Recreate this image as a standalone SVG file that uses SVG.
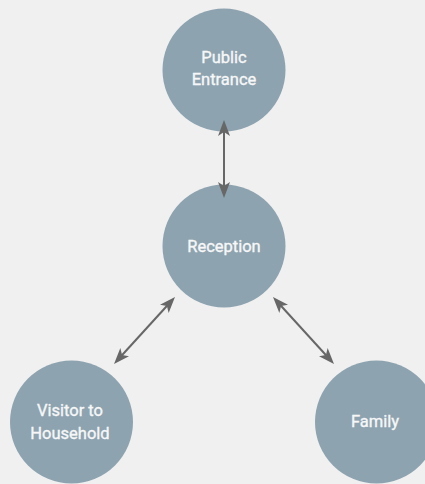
<svg xmlns="http://www.w3.org/2000/svg" width="425" height="484" viewBox="0 0 425 484">
  <style>
    .node { fill: #8da3b0; }
    .label { fill: #f7f7f7; stroke: #f7f7f7; stroke-width: 0.35; font-family: Roboto, "Liberation Sans", sans-serif; font-size: 16.5px; font-weight: 400; text-anchor: middle; }
    .link { stroke: #676767; stroke-width: 2; fill: none; marker-start: url(#head); marker-end: url(#head); }
  </style>
  <defs>
    <marker id="head" viewBox="0 0 16 12" refX="12" refY="6" markerWidth="16" markerHeight="12" markerUnits="userSpaceOnUse" orient="auto-start-reverse">
      <path d="M0,0 L16,6 L0,12 L4,6 Z" fill="#676767"/>
    </marker>
  </defs>
  <rect width="425" height="484" fill="#f0f0f0"/>

  <g id="public-entrance">
    <circle class="node" cx="224" cy="70" r="61.5"/>
    <text class="label" x="224" y="63">Public</text>
    <text class="label" x="224" y="85">Entrance</text>
  </g>

  <g id="reception">
    <circle class="node" cx="224" cy="246" r="61.5"/>
    <text class="label" x="224" y="251.5">Reception</text>
  </g>

  <g id="visitor-to-household">
    <circle class="node" cx="71.5" cy="422" r="61.5"/>
    <text class="label" x="70" y="416">Visitor to</text>
    <text class="label" x="70" y="438.5">Household</text>
  </g>

  <g id="family">
    <circle class="node" cx="376.5" cy="422" r="61.5"/>
    <text class="label" x="375" y="427">Family</text>
  </g>

  <!-- connectors drawn last so the arrowheads sit on top of the circles -->
  <g id="connectors">
    <line class="link" x1="224" y1="124" x2="224" y2="194"/>
    <line class="link" x1="172.3" y1="300" x2="116.7" y2="361"/>
    <line class="link" x1="275.7" y1="300" x2="331.3" y2="361"/>
  </g>
</svg>
